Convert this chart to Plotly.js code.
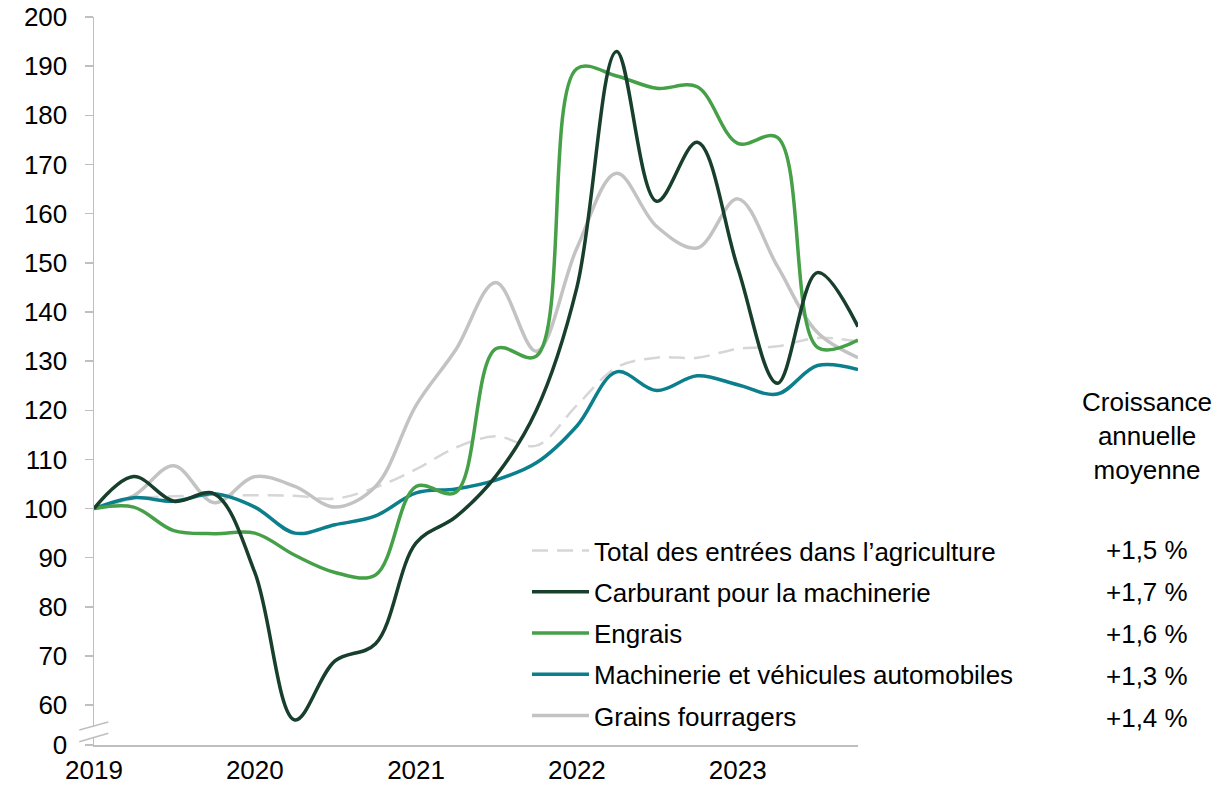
<!DOCTYPE html>
<html>
<head>
<meta charset="utf-8">
<script src="https://cdn.plot.ly/plotly-3.0.1.min.js"></script>
<style>html,body{margin:0;padding:0;background:#fff;}#chart{width:1231px;height:786px;}</style>
</head>
<body>
<div id="chart"></div>
<script>
// ---- Data (quarterly index, 2019 Q1 = 100) ----
const quarters = [
  '2019-01-01','2019-04-01','2019-07-01','2019-10-01',
  '2020-01-01','2020-04-01','2020-07-01','2020-10-01',
  '2021-01-01','2021-04-01','2021-07-01','2021-10-01',
  '2022-01-01','2022-04-01','2022-07-01','2022-10-01',
  '2023-01-01','2023-04-01','2023-07-01','2023-10-01'
];
const totalInputs = [100,102,102.5,102.6,102.7,102.6,102,104.3,108,112.4,114.7,112.8,121,128.7,130.7,130.7,132.5,133,134.7,134];
const fuel        = [100,106.5,101.5,103,87,57,69,72.5,93,98.3,106.6,120,145,193,162.5,174.5,149,125.5,148,137];
const fertilizer  = [100,100.3,95.5,94.9,95,90.5,87,86.5,104.5,103.3,132.5,131,189.5,188,185.5,185.8,174.3,175.5,132.8,134.3];
const machinery   = [100,102.2,101.5,103,100.3,95,96.7,98.5,103.2,104,105.8,109.3,116.8,127.8,124,127,125.2,123.3,129.1,128.3];
const feedGrains  = [100,102.6,108.7,101.2,106.5,104.5,100.3,104.5,121,132.3,146,132,153,168.2,157.4,153,163,149.3,135.8,130.7];

const seriesNames = [
  'Total des entrées dans l\u2019agriculture',
  'Carburant pour la machinerie',
  'Engrais',
  'Machinerie et véhicules automobiles',
  'Grains fourragers'
];
const growthRates = ['+1,5 %','+1,7 %','+1,6 %','+1,3 %','+1,4 %'];
const growthHeader = 'Croissance<br>annuelle<br>moyenne';

const yearTickVals = ['2019-01-01','2020-01-01','2021-01-01','2022-01-01','2023-01-01'];
const yearTickText = ['2019','2020','2021','2022','2023'];

const yTickVals = [60,70,80,90,100,110,120,130,140,150,160,170,180,190,200];
const yTickText = ['60','70','80','90','100','110','120','130','140','150','160','170','180','190','200'];

// ---- Styling ----
const Y_BREAK = 51.9;   // axis position shown as "0" below the break
const FONT = 'Liberation Sans, Arial, Helvetica, sans-serif';
const FS = 26;
const AXIS_GREY = '#bfbfbf';

const colors = ['#d6d6d6','#173f2c','#45a048','#0b7f8b','#c3c3c3'];
const values = [totalInputs, fuel, fertilizer, machinery, feedGrains];
const drawOrder = [0,4,3,2,1];

const traces = drawOrder.map(i => ({
  type:'scatter', mode:'lines',
  x: quarters, y: values[i],
  name: seriesNames[i],
  legendrank: i + 1,
  legendgroup: 'g' + i,
  line: {
    color: colors[i],
    width: i === 0 ? 2.5 : 3.5,
    shape: 'spline', smoothing: 1,
    dash: i === 0 ? '16px,9px' : 'solid'
  },
  hoverinfo: 'skip'
}));

// helpers for paper coordinates
const L = 94, R = 858, T = 17, B = 745;
const px = v => (v - L) / (R - L);
const py = v => (B - v) / (B - T);

const rowY = [550, 592, 634, 676, 718];
const annotations = growthRates.map((g, k) => ({
  text: g, xref:'paper', yref:'paper', x: px(1147), y: py(rowY[k]),
  xanchor:'center', yanchor:'middle', showarrow:false,
  font:{family:FONT, size:FS, color:'#000'}
}));
annotations.push({
  text: growthHeader, xref:'paper', yref:'paper', x: px(1147), y: py(436),
  xanchor:'center', yanchor:'middle', showarrow:false,
  font:{family:FONT, size:FS, color:'#000'}
});

const shapes = [
  { type:'path', xref:'paper', yref:'paper', layer:'above',
    path: `M ${px(86)},${py(729)} L ${px(102)},${py(724.5)} L ${px(102)},${py(734.5)} L ${px(86)},${py(739)} Z`,
    fillcolor:'#ffffff', line:{width:0} },
  { type:'line', xref:'paper', yref:'paper', layer:'above',
    x0: px(79.3), y0: py(730), x1: px(108.3), y1: py(722),
    line:{color:AXIS_GREY, width:1.5} },
  { type:'line', xref:'paper', yref:'paper', layer:'above',
    x0: px(79.3), y0: py(741.7), x1: px(108.3), y1: py(733.3),
    line:{color:AXIS_GREY, width:1.5} }
];

const layout = {
  width:1231, height:786,
  margin:{l:L, r:1231-R, t:T, b:786-B},
  paper_bgcolor:'#ffffff', plot_bgcolor:'#ffffff',
  font:{family:FONT, size:FS, color:'#000'},
  showlegend:true,
  legend:{
    x: px(527), y: py(527), xanchor:'left', yanchor:'top',
    bgcolor:'rgba(0,0,0,0)', borderwidth:0,
    itemwidth:57, tracegroupgap:4.5,
    font:{family:FONT, size:FS, color:'#000'}
  },
  xaxis:{
    type:'date', range:['2019-01-01','2023-10-01'],
    tickvals: yearTickVals, ticktext: yearTickText,
    showgrid:false, zeroline:false,
    showline:true, linecolor:AXIS_GREY, linewidth:1.5,
    ticks:'', ticklabelstandoff:1,
    tickfont:{family:FONT, size:FS, color:'#000'}
  },
  yaxis:{
    range:[Y_BREAK, 200],
    tickvals:[Y_BREAK].concat(yTickVals), ticktext:['0'].concat(yTickText),
    showgrid:false, zeroline:false,
    showline:true, linecolor:AXIS_GREY, linewidth:1.5,
    ticks:'outside', ticklen:8, tickwidth:1.5, tickcolor:AXIS_GREY,
    ticklabelstandoff:12,
    tickfont:{family:FONT, size:FS, color:'#000'}
  },
  annotations: annotations,
  shapes: shapes
};

Plotly.newPlot('chart', traces, layout, {displayModeBar:false, staticPlot:true});
</script>
</body>
</html>
